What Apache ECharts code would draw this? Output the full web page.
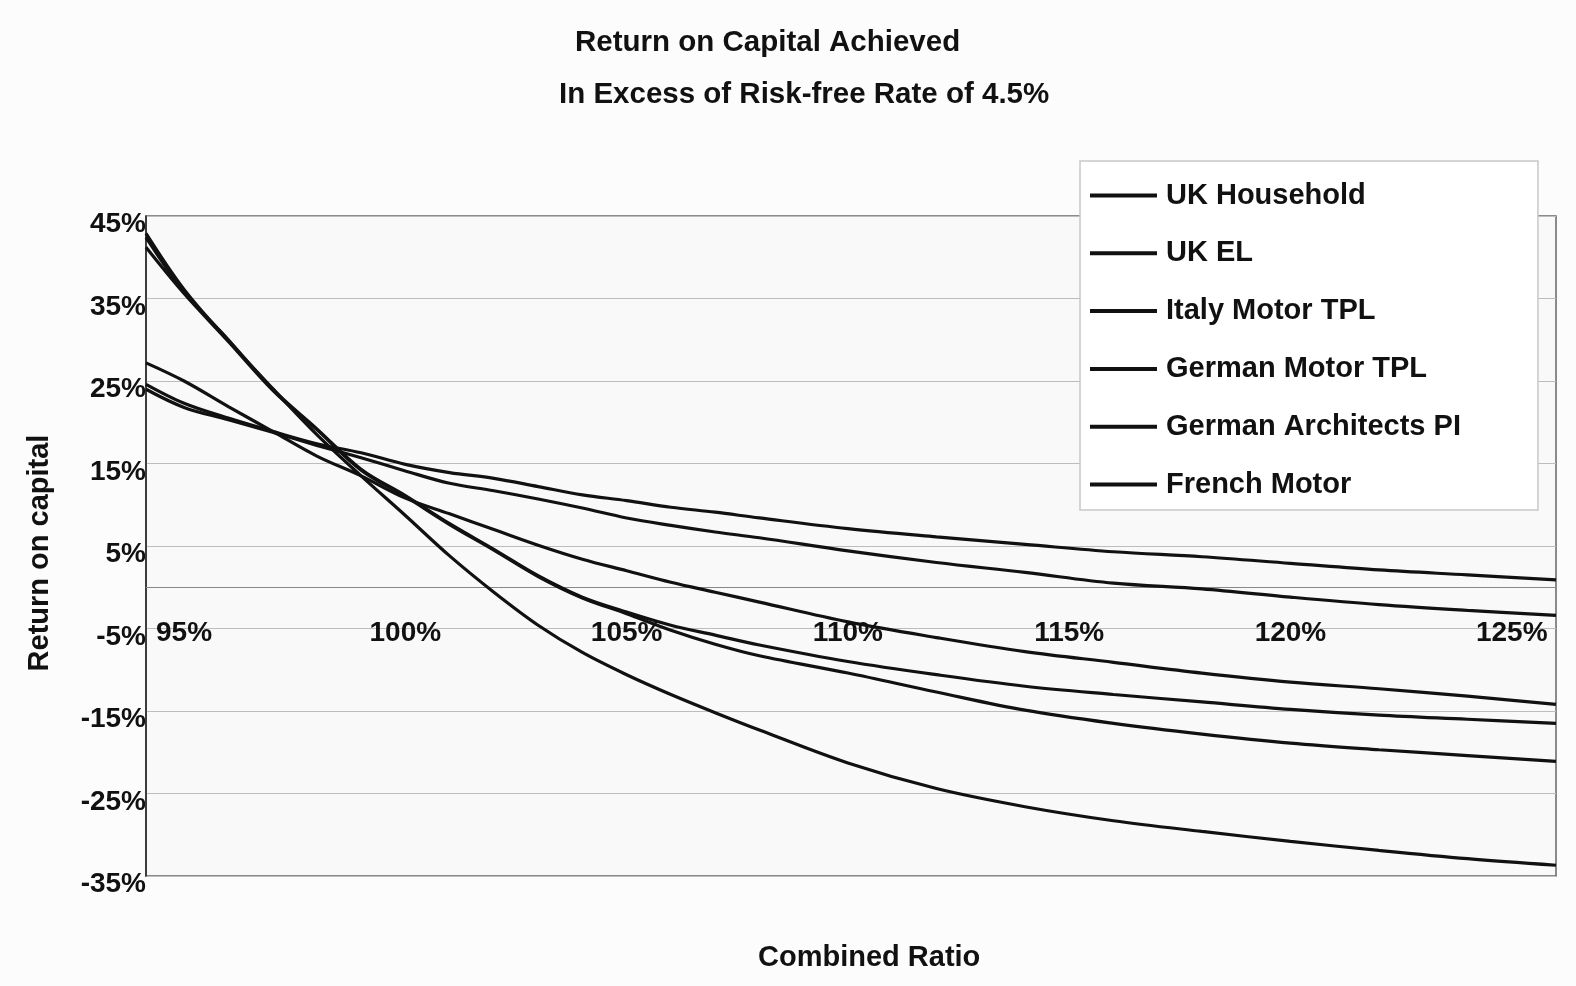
<!DOCTYPE html>
<html><head><meta charset="utf-8">
<script src="https://cdn.jsdelivr.net/npm/echarts@6/dist/echarts.min.js"></script>
<style>html,body{margin:0;padding:0;background:#fcfcfc}#c{width:1576px;height:986px}</style>
</head><body><div id="c"></div>
<script>
// Combined ratio (%) sample points
const combinedRatio = [94.14, 95, 96, 97, 98, 99, 100, 101, 102, 103, 104, 105, 106, 107, 108, 110, 112, 114, 116, 118, 120, 122, 124, 126];
// Return on capital (%) per line
const ukHousehold = [24.6, 22.3, 20.5, 18.9, 17.4, 16.3, 14.9, 13.9, 13.2, 12.2, 11.2, 10.5, 9.7, 9.1, 8.4, 7.1, 6.1, 5.2, 4.3, 3.7, 2.9, 2.1, 1.5, 0.9];
const ukEL = [24.0, 21.8, 20.3, 18.8, 17.2, 15.7, 14.1, 12.6, 11.7, 10.7, 9.6, 8.4, 7.5, 6.7, 6.0, 4.4, 3.0, 1.8, 0.5, -0.2, -1.2, -2.1, -2.8, -3.4];
const italyMotorTPL = [27.2, 25.0, 21.9, 18.9, 15.9, 13.5, 10.8, 8.9, 7.0, 5.1, 3.4, 2.0, 0.6, -0.6, -1.8, -4.2, -6.1, -7.8, -9.1, -10.4, -11.5, -12.3, -13.2, -14.2];
const germanMotorTPL = [42.4, 35.8, 30.0, 24.0, 19.2, 14.3, 11.1, 7.7, 4.6, 1.4, -1.2, -3.0, -4.6, -5.8, -7.0, -9.0, -10.6, -12.0, -13.0, -13.9, -14.8, -15.5, -16.0, -16.5];
const germanArchitectsPI = [41.2, 35.6, 29.8, 23.9, 19.1, 14.2, 11.0, 7.6, 4.5, 1.3, -1.3, -3.2, -5.2, -6.9, -8.3, -10.4, -12.7, -14.9, -16.5, -17.8, -18.9, -19.7, -20.4, -21.1];
const frenchMotor = [42.9, 36.1, 29.9, 24.1, 18.5, 13.5, 8.7, 3.8, -0.6, -4.6, -7.9, -10.6, -13.0, -15.2, -17.3, -21.3, -24.4, -26.6, -28.3, -29.6, -30.8, -31.9, -32.9, -33.7];

const seriesNames = ['UK Household', 'UK EL', 'Italy Motor TPL', 'German Motor TPL', 'German Architects PI', 'French Motor'];
const seriesValues = [ukHousehold, ukEL, italyMotorTPL, germanMotorTPL, germanArchitectsPI, frenchMotor];
const xTickValues = [95, 100, 105, 110, 115, 120, 125];

const FONT = "'Liberation Sans', Arial, sans-serif";
const chart = echarts.init(document.getElementById('c'), null, {renderer: 'canvas'});

const series = seriesNames.map((name, k) => ({
  name: name,
  type: 'line',
  data: combinedRatio.map((x, i) => [x, seriesValues[k][i]]),
  symbol: 'none',
  smooth: 0.35,
  lineStyle: {color: '#111', width: 3.2},
  itemStyle: {color: '#111'},
  z: 3
}));

chart.setOption({
  animation: false,
  backgroundColor: '#fcfcfc',
  title: [
    {text: 'Return on Capital Achieved', left: 575, top: 28, padding: 0,
     textStyle: {fontFamily: FONT, fontSize: 29.5, fontWeight: 'bold', color: '#111'}},
    {text: 'In Excess of Risk-free Rate of 4.5%', left: 559, top: 80, padding: 0,
     textStyle: {fontFamily: FONT, fontSize: 29.5, fontWeight: 'bold', color: '#111'}},
    {text: 'Combined Ratio', left: 758, top: 943, padding: 0,
     textStyle: {fontFamily: FONT, fontSize: 29, fontWeight: 'bold', color: '#111'}}
  ],
  grid: {left: 146, top: 216, right: 20, bottom: 110, show: true,
         backgroundColor: '#f9f9f9', borderColor: '#666', borderWidth: 1.5, containLabel: false},
  legend: {
    orient: 'vertical', left: 1080, top: 161,
    padding: [20, 77, 11, 10],
    itemWidth: 67, itemHeight: 30, itemGap: 28.8,
    backgroundColor: '#ffffff', borderColor: '#c8c8c8', borderWidth: 1.5,
    itemStyle: {color: '#111'},
    textStyle: {fontFamily: FONT, fontSize: 29, fontWeight: 'bold', color: '#111', padding: [0, 0, 0, 4]},
    data: seriesNames.map(n => ({name: n, icon: 'path://M0,0 L67,0 L67,4 L0,4 Z'})),
    z: 10
  },
  xAxis: {
    type: 'value', min: 94.14, max: 126,
    axisLine: {onZero: true, lineStyle: {color: '#888', width: 1}},
    axisTick: {show: false},
    splitLine: {show: false},
    axisLabel: {
      customValues: xTickValues, margin: -257,
      formatter: v => v + '%',
      fontFamily: FONT, fontSize: 28, fontWeight: 'bold', color: '#111'
    }
  },
  yAxis: {
    type: 'value', min: -35, max: 45, interval: 10,
    name: 'Return on capital', nameLocation: 'middle', nameRotate: 90, nameGap: 92,
    nameTextStyle: {fontFamily: FONT, fontSize: 29, fontWeight: 'bold', color: '#111', padding: [0, 14, 0, 0]},
    axisLine: {show: true, lineStyle: {color: '#222', width: 1.5}},
    axisTick: {show: false},
    splitLine: {show: true, lineStyle: {color: '#bdbdbd', width: 1.2}},
    axisLabel: {
      margin: 0, verticalAlign: 'top', lineHeight: 17,
      formatter: v => v + '%',
      fontFamily: FONT, fontSize: 28, fontWeight: 'bold', color: '#111'
    }
  },
  series: series
});
</script></body></html>
